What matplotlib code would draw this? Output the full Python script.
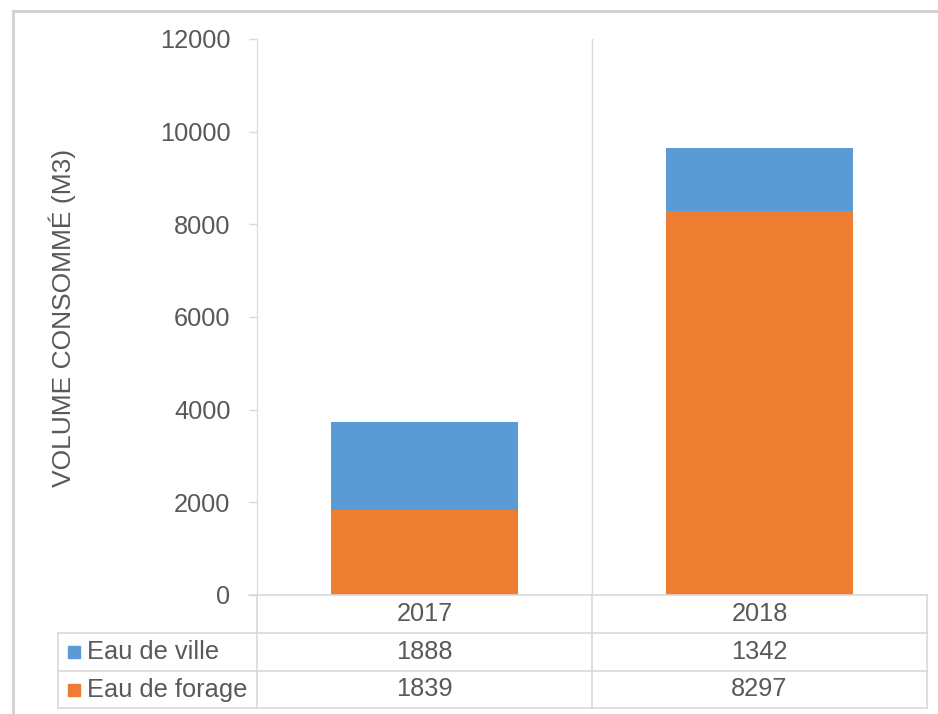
import numpy as np
import matplotlib.pyplot as plt
from matplotlib.lines import Line2D
from matplotlib.patches import Rectangle

plt.rcParams['font.family'] = ['Liberation Sans', 'DejaVu Sans']

# data
years = ['2017', '2018']
series_names = ['Eau de ville', 'Eau de forage']
eau_ville = [1888, 1342]
eau_forage = [1839, 8297]

blue = '#5B9BD5'
orange = '#ED7D31'
text_col = '#595959'
grid_col = '#D9D9D9'
fs = 18.3

W, H = 938, 714
fig = plt.figure(figsize=(W / 100, H / 100), dpi=100)


def fx(x):
    return x / W


def fy(y):
    return 1 - y / H


# plot area in pixels
left, right, top, bottom = 257, 927, 39, 595
ax = fig.add_axes([fx(left), fy(bottom), fx(right - left), fy(top) - fy(bottom)])

x = np.arange(len(years))
ax.bar(x, eau_forage, width=0.56, color=orange, zorder=2)
ax.bar(x, eau_ville, width=0.56, bottom=eau_forage, color=blue, zorder=2)

ax.set_xlim(-0.5, len(years) - 0.5)
ax.set_ylim(0, 12000)
ax.set_yticks(np.arange(0, 12001, 2000))
ax.tick_params(axis='y', labelsize=fs, labelcolor=text_col, color=grid_col,
               length=6, width=1, pad=13)
ax.set_xticks([])
for s in ['top', 'right', 'bottom']:
    ax.spines[s].set_visible(False)
ax.spines['left'].set_color(grid_col)

# vertical separators between categories
for b in np.arange(0.5, len(years) - 0.5, 1):
    ax.axvline(b, color=grid_col, lw=1, zorder=1)

fig.text(fx(62), fy(318), 'VOLUME CONSOMMÉ (M3)', rotation=90, fontsize=19,
         color=text_col, ha='center', va='center')

# data table
col_w = (right - left) / len(years)
row_y = [595, 633, 671, 708]
tab_left = 58
lw = 1.2


def hline(x0, x1, y):
    fig.add_artist(Line2D([fx(x0), fx(x1)], [fy(y), fy(y)], color=grid_col, lw=lw))


def vline(xp, y0, y1):
    fig.add_artist(Line2D([fx(xp), fx(xp)], [fy(y0), fy(y1)], color=grid_col, lw=lw))


hline(left - 8, right, row_y[0])
for y in row_y[1:]:
    hline(tab_left, right, y)
vline(tab_left, row_y[1], row_y[3])
for i in range(len(years) + 1):
    vline(left + i * col_w, row_y[0], row_y[3])

for i, yr in enumerate(years):
    cx = left + (i + 0.5) * col_w
    fig.text(fx(cx), fy((row_y[0] + row_y[1]) / 2), yr, fontsize=fs,
             color=text_col, ha='center', va='center')

rows = [eau_ville, eau_forage]
colors = [blue, orange]
for r, (name, vals, c) in enumerate(zip(series_names, rows, colors)):
    cy = (row_y[r + 1] + row_y[r + 2]) / 2
    fig.add_artist(Rectangle((fx(68), fy(cy + 6)), fx(12), fy(cy - 6) - fy(cy + 6),
                             color=c, transform=fig.transFigure))
    fig.text(fx(87), fy(cy), name, fontsize=fs, color=text_col, ha='left', va='center')
    for i, v in enumerate(vals):
        cx = left + (i + 0.5) * col_w
        fig.text(fx(cx), fy(cy), str(v), fontsize=fs, color=text_col,
                 ha='center', va='center')

# chart border
fig.add_artist(Line2D([fx(13), fx(13)], [fy(11), 0], color='#D0D0D0', lw=2))
fig.add_artist(Line2D([fx(13), 1], [fy(11), fy(11)], color='#D0D0D0', lw=2))

fig.savefig('out.png', dpi=100)
